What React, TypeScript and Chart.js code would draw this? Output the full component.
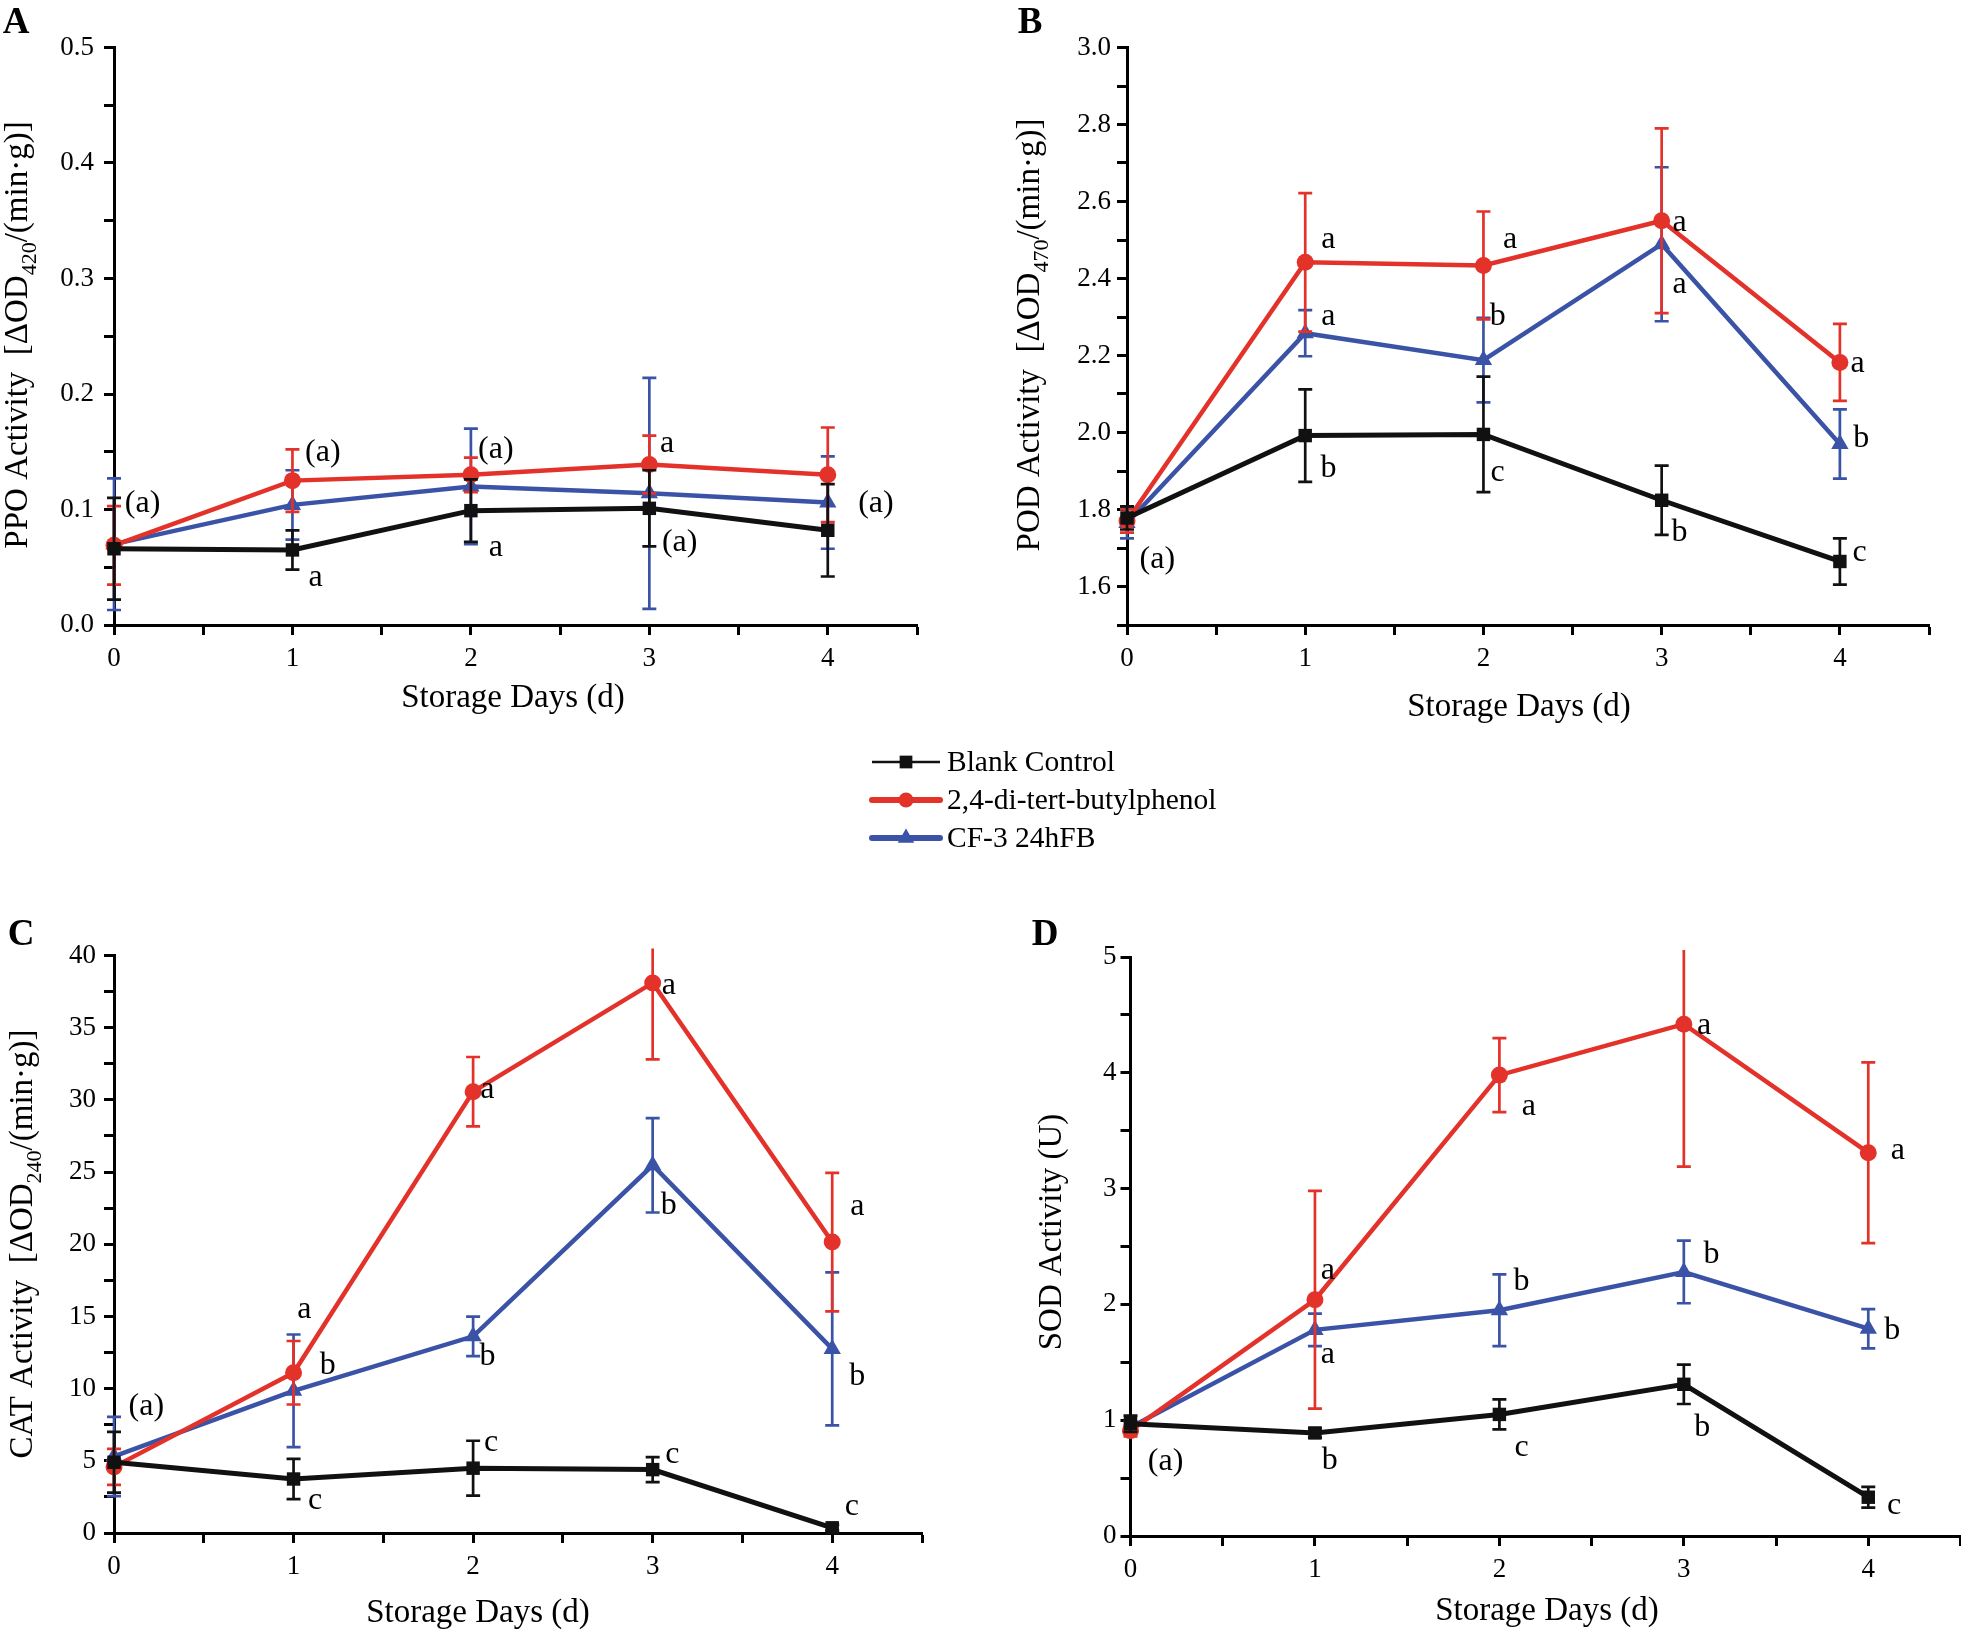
import { useEffect, useRef } from 'react';
import { Chart, registerables } from 'chart.js';

Chart.register(...registerables);

const FONT = "'Liberation Serif', 'Times New Roman', serif";
const PAGE_W = 1961;
const PAGE_H = 1632;
const CANVAS_W = 2040;

// ---------- shared data ----------
const days = [0, 1, 2, 3, 4];
const seriesNames = ['Blank Control', '2,4-di-tert-butylphenol', 'CF-3 24hFB'];
const seriesColors = ['#111111', '#E3322A', '#3A53A6'];
const seriesStyles = ['rect', 'circle', 'triangle'];
const seriesRadius = [9.5, 8.5, 10];
const seriesWidth = [5, 4.5, 4.5];

// ---------- Panel A : PPO ----------
const ppoBlank = [0.066, 0.065, 0.099, 0.101, 0.082];
const ppoBlankErr = [0.044, 0.017, 0.027, 0.033, 0.040];
const ppoPhenol = [0.069, 0.125, 0.130, 0.139, 0.130];
const ppoPhenolErr = [0.034, 0.027, 0.015, 0.025, 0.041];
const ppoCF3 = [0.070, 0.104, 0.120, 0.114, 0.106];
const ppoCF3Err = [0.057, 0.030, 0.050, 0.100, 0.040];
const ppoLetters = [
  { x: 0.16, y: 0.105, t: '(a)' },
  { x: 1.17, y: 0.149, t: '(a)' },
  { x: 1.13, y: 0.041, t: 'a' },
  { x: 2.14, y: 0.152, t: '(a)' },
  { x: 2.14, y: 0.067, t: 'a' },
  { x: 3.1, y: 0.157, t: 'a' },
  { x: 3.17, y: 0.071, t: '(a)' },
  { x: 4.27, y: 0.105, t: '(a)' },
];

// ---------- Panel B : POD ----------
const podBlank = [1.778, 1.992, 1.995, 1.824, 1.665];
const podBlankErr = [0.03, 0.12, 0.15, 0.09, 0.06];
const podPhenol = [1.770, 2.442, 2.434, 2.550, 2.182];
const podPhenolErr = [0.03, 0.18, 0.14, 0.24, 0.10];
const podCF3 = [1.765, 2.258, 2.188, 2.489, 1.970];
const podCF3Err = [0.04, 0.06, 0.11, 0.20, 0.09];
const podLetters = [
  { x: 0.17, y: 1.669, t: '(a)' },
  { x: 1.13, y: 2.5, t: 'a' },
  { x: 1.13, y: 2.302, t: 'a' },
  { x: 1.13, y: 1.906, t: 'b' },
  { x: 2.15, y: 2.5, t: 'a' },
  { x: 2.08, y: 2.302, t: 'b' },
  { x: 2.08, y: 1.896, t: 'c' },
  { x: 3.1, y: 2.545, t: 'a' },
  { x: 3.1, y: 2.383, t: 'a' },
  { x: 3.1, y: 1.74, t: 'b' },
  { x: 4.1, y: 2.18, t: 'a' },
  { x: 4.12, y: 1.984, t: 'b' },
  { x: 4.11, y: 1.688, t: 'c' },
];

// ---------- Panel C : CAT ----------
const catBlank = [4.9, 3.74, 4.49, 4.39, 0.36];
const catBlankErr = [2.1, 1.4, 1.9, 0.87, 0.2];
const catPhenol = [4.58, 11.1, 30.57, 38.1, 20.15];
const catPhenolErr = [1.24, 2.2, 2.4, 5.3, 4.8];
const catCF3 = [5.3, 9.85, 13.62, 25.47, 12.75];
const catCF3Err = [2.75, 3.9, 1.37, 3.27, 5.3];
const catLetters = [
  { x: 0.18, y: 8.74, t: '(a)' },
  { x: 1.06, y: 15.5, t: 'a' },
  { x: 1.19, y: 11.6, t: 'b' },
  { x: 1.12, y: 2.25, t: 'c' },
  { x: 2.08, y: 30.7, t: 'a' },
  { x: 2.08, y: 12.2, t: 'b' },
  { x: 2.1, y: 6.23, t: 'c' },
  { x: 3.09, y: 37.9, t: 'a' },
  { x: 3.09, y: 22.7, t: 'b' },
  { x: 3.11, y: 5.45, t: 'c' },
  { x: 4.14, y: 22.6, t: 'a' },
  { x: 4.14, y: 10.8, t: 'b' },
  { x: 4.11, y: 1.8, t: 'c' },
];

// ---------- Panel D : SOD ----------
const sodBlank = [0.97, 0.89, 1.05, 1.31, 0.335];
const sodBlankErr = [0.07, 0.04, 0.13, 0.17, 0.09];
const sodPhenol = [0.91, 2.04, 3.98, 4.42, 3.31];
const sodPhenolErr = [0.05, 0.94, 0.32, 1.23, 0.78];
const sodCF3 = [0.94, 1.78, 1.95, 2.28, 1.79];
const sodCF3Err = [0.05, 0.14, 0.31, 0.27, 0.17];
const sodLetters = [
  { x: 0.19, y: 0.64, t: '(a)' },
  { x: 1.07, y: 2.29, t: 'a' },
  { x: 1.07, y: 1.57, t: 'a' },
  { x: 1.08, y: 0.65, t: 'b' },
  { x: 2.16, y: 3.71, t: 'a' },
  { x: 2.12, y: 2.2, t: 'b' },
  { x: 2.12, y: 0.76, t: 'c' },
  { x: 3.11, y: 4.41, t: 'a' },
  { x: 3.15, y: 2.43, t: 'b' },
  { x: 3.1, y: 0.94, t: 'b' },
  { x: 4.16, y: 3.33, t: 'a' },
  { x: 4.13, y: 1.77, t: 'b' },
  { x: 4.14, y: 0.26, t: 'c' },
];

type Part = { text: string; sub?: boolean };
type Ann = { x: number; y: number; t: string };
type Panel = {
  letter: string;
  letterPos: [number, number];
  area: { l: number; r: number; t: number; b: number };
  yMin: number;
  yMax: number;
  yStep: number;
  yTickPad: number;
  yLabel: (v: number) => string;
  xTitlePos: [number, number];
  yTitlePos: [number, number];
  yTitle: Part[];
  means: number[][];
  errs: number[][];
  anns: Ann[];
  legend?: boolean;
};

const panels: Panel[] = [
  {
    letter: 'A',
    letterPos: [16, 23],
    area: { l: 114, r: 917, t: 47.5, b: 625 },
    yMin: 0, yMax: 0.5, yStep: 0.05, yTickPad: 10,
    yLabel: (v) => (Math.round(v * 100) % 10 === 0 ? v.toFixed(1) : ''),
    xTitlePos: [513, 698],
    yTitlePos: [16, 335],
    yTitle: [{ text: 'PPO Activity  [ΔOD' }, { text: '420', sub: true }, { text: '/(min·g)]' }],
    means: [ppoBlank, ppoPhenol, ppoCF3],
    errs: [ppoBlankErr, ppoPhenolErr, ppoCF3Err],
    anns: ppoLetters,
    legend: true,
  },
  {
    letter: 'B',
    letterPos: [1030, 23],
    area: { l: 1127, r: 1929, t: 47.5, b: 625 },
    yMin: 1.5, yMax: 3.0, yStep: 0.1, yTickPad: 6,
    yLabel: (v) => (Math.round(v * 10) % 2 === 0 ? v.toFixed(1) : ''),
    xTitlePos: [1519, 707],
    yTitlePos: [1028, 335],
    yTitle: [{ text: 'POD Activity  [ΔOD' }, { text: '470', sub: true }, { text: '/(min·g)]' }],
    means: [podBlank, podPhenol, podCF3],
    errs: [podBlankErr, podPhenolErr, podCF3Err],
    anns: podLetters,
  },
  {
    letter: 'C',
    letterPos: [21, 935],
    area: { l: 114, r: 922, t: 955.5, b: 1533 },
    yMin: 0, yMax: 40, yStep: 2.5, yTickPad: 8,
    yLabel: (v) => (v % 5 === 0 ? String(v) : ''),
    xTitlePos: [478, 1613],
    yTitlePos: [21, 1244],
    yTitle: [{ text: 'CAT Activity  [ΔOD' }, { text: '240', sub: true }, { text: '/(min·g)]' }],
    means: [catBlank, catPhenol, catCF3],
    errs: [catBlankErr, catPhenolErr, catCF3Err],
    anns: catLetters,
  },
  {
    letter: 'D',
    letterPos: [1045, 935],
    area: { l: 1130.5, r: 1960.5, t: 957, b: 1536 },
    yMin: 0, yMax: 5, yStep: 0.5, yTickPad: 4,
    yLabel: (v) => (Number.isInteger(v) ? String(v) : ''),
    xTitlePos: [1547, 1611],
    yTitlePos: [1050, 1232],
    yTitle: [{ text: 'SOD Activity (U)' }],
    means: [sodBlank, sodPhenol, sodCF3],
    errs: [sodBlankErr, sodPhenolErr, sodCF3Err],
    anns: sodLetters,
  },
];

const Y_AXIS_W = 100;
const X_AXIS_H = 60;
const TICK_FONT = { family: FONT, size: 27 };

function drawMarker(ctx: CanvasRenderingContext2D, style: string, x: number, y: number, r: number, color: string) {
  ctx.fillStyle = color;
  ctx.beginPath();
  if (style === 'rect') {
    const s = r * Math.SQRT1_2;
    ctx.rect(x - s, y - s, 2 * s, 2 * s);
  } else if (style === 'circle') {
    ctx.arc(x, y, r, 0, Math.PI * 2);
  } else {
    const h = r;
    ctx.moveTo(x, y - h);
    ctx.lineTo(x + h * Math.sin(Math.PI / 3), y + h * 0.5);
    ctx.lineTo(x - h * Math.sin(Math.PI / 3), y + h * 0.5);
    ctx.closePath();
  }
  ctx.fill();
}

function makePlugin(p: Panel) {
  return {
    id: 'panelDecor' + p.letter,
    beforeDatasetDraw(chart: any, args: any) {
      const i = args.index;
      const { ctx, chartArea } = chart;
      const xs = chart.scales.x;
      const ys = chart.scales.y;
      ctx.save();
      ctx.beginPath();
      ctx.rect(chartArea.left - 20, chartArea.top - 7, chartArea.right - chartArea.left + 40, chartArea.bottom - chartArea.top + 7);
      ctx.clip();
      ctx.strokeStyle = seriesColors[i];
      ctx.lineWidth = 2.7;
      const cap = 7;
      days.forEach((d, j) => {
        const m = p.means[i][j];
        const e = p.errs[i][j];
        const px = xs.getPixelForValue(d);
        const top = ys.getPixelForValue(m + e);
        const bot = ys.getPixelForValue(m - e);
        ctx.beginPath();
        ctx.moveTo(px, top);
        ctx.lineTo(px, bot);
        ctx.moveTo(px - cap, top);
        ctx.lineTo(px + cap, top);
        ctx.moveTo(px - cap, bot);
        ctx.lineTo(px + cap, bot);
        ctx.stroke();
      });
      ctx.restore();
    },
    afterDraw(chart: any) {
      const { ctx } = chart;
      const xs = chart.scales.x;
      const ys = chart.scales.y;
      ctx.save();
      ctx.fillStyle = '#000';
      // panel letter
      ctx.font = `bold 37px ${FONT}`;
      ctx.textAlign = 'center';
      ctx.textBaseline = 'middle';
      ctx.fillText(p.letter, p.letterPos[0], p.letterPos[1]);
      // x title
      ctx.font = `33px ${FONT}`;
      ctx.fillText('Storage Days (d)', p.xTitlePos[0], p.xTitlePos[1]);
      // y title (rotated, with subscript)
      const size = 33;
      const normal = `${size}px ${FONT}`;
      const small = `${Math.round(size * 0.68)}px ${FONT}`;
      const widths = p.yTitle.map((part) => {
        ctx.font = part.sub ? small : normal;
        return ctx.measureText(part.text).width;
      });
      const total = widths.reduce((a, b) => a + b, 0);
      ctx.translate(p.yTitlePos[0], p.yTitlePos[1]);
      ctx.rotate(-Math.PI / 2);
      ctx.textAlign = 'left';
      ctx.textBaseline = 'alphabetic';
      let cx = -total / 2;
      p.yTitle.forEach((part, k) => {
        ctx.font = part.sub ? small : normal;
        ctx.fillText(part.text, cx, size * 0.34 + (part.sub ? size * 0.28 : 0));
        cx += widths[k];
      });
      ctx.restore();

      // significance letters
      ctx.save();
      ctx.fillStyle = '#000';
      ctx.font = `32px ${FONT}`;
      ctx.textAlign = 'center';
      ctx.textBaseline = 'middle';
      p.anns.forEach((a) => {
        ctx.fillText(a.t, xs.getPixelForValue(a.x), ys.getPixelForValue(a.y));
      });
      ctx.restore();

      // legend
      if (p.legend) {
        const rows = [762, 800, 838];
        const x0 = 872;
        const x1 = 940;
        const lw = [2.5, 6, 6];
        ctx.save();
        seriesNames.forEach((name, i) => {
          const y = rows[i];
          ctx.strokeStyle = seriesColors[i];
          ctx.lineWidth = lw[i];
          ctx.lineCap = i === 0 ? 'butt' : 'round';
          ctx.beginPath();
          ctx.moveTo(x0, y);
          ctx.lineTo(x1, y);
          ctx.stroke();
          drawMarker(ctx, seriesStyles[i], (x0 + x1) / 2, y, i === 0 ? 9 : i === 1 ? 7.5 : 9.5, seriesColors[i]);
          ctx.fillStyle = '#000';
          ctx.font = `29.5px ${FONT}`;
          ctx.textAlign = 'left';
          ctx.textBaseline = 'middle';
          ctx.fillText(name, 947, y + 1);
        });
        ctx.restore();
      }
    },
  };
}

function PanelChart({ p }: { p: Panel }) {
  const ref = useRef<HTMLCanvasElement | null>(null);
  useEffect(() => {
    if (!ref.current) return;
    const chart = new Chart(ref.current, {
      type: 'line',
      data: {
        datasets: [0, 1, 2].map((i) => ({
          label: seriesNames[i],
          data: days.map((d, j) => ({ x: d, y: p.means[i][j] })),
          borderColor: seriesColors[i],
          backgroundColor: seriesColors[i],
          borderWidth: seriesWidth[i],
          pointStyle: seriesStyles[i] as any,
          pointRadius: seriesRadius[i],
          pointBorderWidth: 0,
          pointBackgroundColor: seriesColors[i],
          pointBorderColor: seriesColors[i],
          tension: 0,
          clip: false as any,
        })),
      },
      options: {
        animation: false,
        responsive: false,
        maintainAspectRatio: false,
        events: [],
        layout: {
          padding: {
            left: p.area.l - Y_AXIS_W,
            top: p.area.t,
            right: CANVAS_W - p.area.r,
            bottom: PAGE_H - p.area.b - X_AXIS_H,
          },
        },
        plugins: {
          legend: { display: false },
          tooltip: { enabled: false },
          title: { display: false },
        },
        scales: {
          x: {
            type: 'linear',
            min: 0,
            max: 4.5,
            afterFit: (s: any) => {
              s.height = X_AXIS_H;
            },
            ticks: {
              stepSize: 0.5,
              autoSkip: false,
              maxRotation: 0,
              color: '#000',
              font: TICK_FONT,
              padding: 8,
              callback: (v: any) => (Number.isInteger(v) && v <= 4 ? String(v) : ''),
            },
            grid: {
              display: true,
              drawOnChartArea: false,
              drawTicks: true,
              tickLength: 10,
              tickWidth: 3,
              tickColor: '#000',
            },
            border: { display: true, color: '#000', width: 3 },
          },
          y: {
            type: 'linear',
            min: p.yMin,
            max: p.yMax,
            afterFit: (s: any) => {
              s.width = Y_AXIS_W;
            },
            ticks: {
              stepSize: p.yStep,
              autoSkip: false,
              color: '#000',
              font: TICK_FONT,
              padding: p.yTickPad,
              callback: (v: any) => p.yLabel(Number(v)),
            },
            grid: {
              display: true,
              drawOnChartArea: false,
              drawTicks: true,
              tickLength: 10,
              tickWidth: 3,
              tickColor: '#000',
            },
            border: { display: true, color: '#000', width: 3 },
          },
        },
      } as any,
      plugins: [makePlugin(p)],
    });
    return () => chart.destroy();
  }, [p]);
  return (
    <canvas
      ref={ref}
      width={CANVAS_W}
      height={PAGE_H}
      style={{ position: 'absolute', left: 0, top: 0, width: CANVAS_W, height: PAGE_H }}
    />
  );
}

export default function App() {
  return (
    <div
      style={{
        position: 'absolute',
        left: 0,
        top: 0,
        width: PAGE_W,
        height: PAGE_H,
        background: '#fff',
        overflow: 'hidden',
      }}
    >
      {panels.map((p) => (
        <PanelChart key={p.letter} p={p} />
      ))}
    </div>
  );
}
